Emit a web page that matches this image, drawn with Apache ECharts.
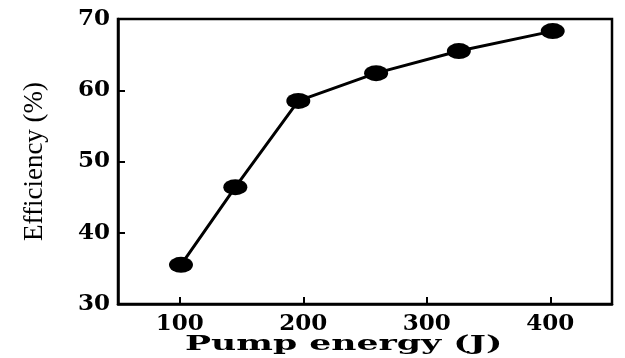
<!DOCTYPE html>
<html><head><meta charset="utf-8">
<script src="https://cdn.jsdelivr.net/npm/echarts@6/dist/echarts.min.js"></script>
<style>html,body{margin:0;padding:0;background:#fff}#c{width:625px;height:358px}</style>
</head><body><div id="c"></div>
<script>
const pumpEnergy = [101, 145, 196, 259, 326, 402];
const efficiency = [35.5, 46.4, 58.5, 62.4, 65.5, 68.3];
const xTicks = [100, 200, 300, 400];
const yTicks = [30, 40, 50, 60, 70];
const xName = 'Pump energy (J)';
const yName = 'Efficiency (%)';

const chart = echarts.init(document.getElementById('c'), null, {renderer: 'canvas'});
const labelFont = {color: '#000', fontFamily: 'DejaVu Serif', fontWeight: 'bold', fontSize: 23};
chart.setOption({
  animation: false,
  backgroundColor: '#fff',
  grid: {left: 118, right: 13, top: 19, bottom: 54, show: true, borderColor: '#000', borderWidth: 2.5},
  xAxis: {
    type: 'value', min: 50, max: 450,
    axisLine: {show: true, onZero: false, lineStyle: {color: '#000', width: 2.5}},
    axisTick: {show: true, inside: true, length: 7, lineStyle: {color: '#000', width: 2}, customValues: xTicks},
    axisLabel: Object.assign({margin: 9, customValues: xTicks}, labelFont),
    splitLine: {show: false}
  },
  yAxis: {
    type: 'value', min: 30, max: 70, interval: 10,
    axisLine: {show: true, onZero: false, lineStyle: {color: '#000', width: 2.5}},
    axisTick: {show: true, inside: true, length: 7, lineStyle: {color: '#000', width: 2}, customValues: yTicks},
    axisLabel: Object.assign({margin: 8, customValues: yTicks}, labelFont),
    splitLine: {show: false},
    name: yName, nameLocation: 'middle', nameGap: 70, nameRotate: 90,
    nameTextStyle: {color: '#000', fontFamily: 'Liberation Serif', fontSize: 27}
  },
  graphic: [{
    type: 'text', left: 185, top: 334, scaleX: 1.65,
    style: {text: xName, fill: '#000', font: 'bold 21px "DejaVu Serif"'}
  }],
  series: [{
    type: 'line',
    data: pumpEnergy.map((x, i) => [x, efficiency[i]]),
    lineStyle: {color: '#000', width: 3},
    itemStyle: {color: '#000'},
    symbol: 'circle', symbolSize: [24, 16],
    z: 3
  }]
});
</script></body></html>
